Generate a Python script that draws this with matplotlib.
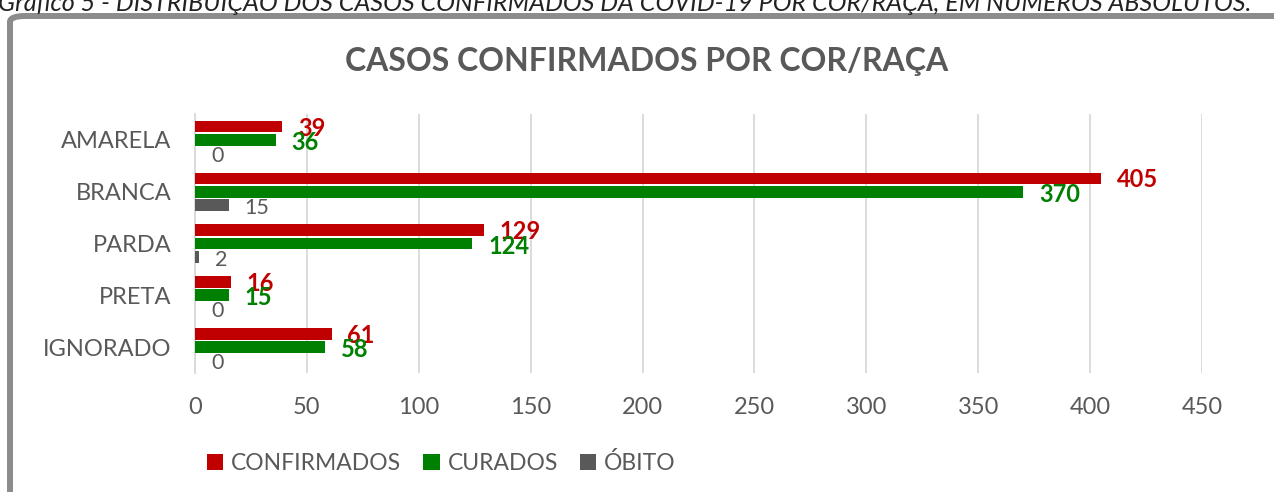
import matplotlib
matplotlib.use('Agg')
import matplotlib.pyplot as plt
import numpy as np
from matplotlib.patches import Patch, FancyBboxPatch

plt.rcParams['font.family'] = ['Lato', 'DejaVu Sans']

categorias = ['AMARELA', 'BRANCA', 'PARDA', 'PRETA', 'IGNORADO']
confirmados = [39, 405, 129, 16, 61]
curados = [36, 370, 124, 15, 58]
obitos = [0, 15, 2, 0, 0]
series = ['CONFIRMADOS', 'CURADOS', 'ÓBITO']
cores = ['#C00000', '#008000', '#595959']
xticks = [0, 50, 100, 150, 200, 250, 300, 350, 400, 450]

TXT = '#595959'
W, H = 1274, 492

fig = plt.figure(figsize=(W / 100, H / 100), dpi=100)

# moldura cinza do grafico (cortada na direita/embaixo)
frame = FancyBboxPatch((10 / W, -0.2), 1.2, 1 - 16 / H + 0.2,
                       boxstyle='round,pad=0,rounding_size=0.012',
                       transform=fig.transFigure, fill=False,
                       ec='#8c8c8c', lw=4.3, clip_on=False)
fig.patches.append(frame)

# legenda do documento, cortada no topo
fig.text(-2 / W, 1 - 11 / H, 'Gráfico 5 - DISTRIBUIÇÃO DOS CASOS CONFIRMADOS DA COVID-19 '
         'POR COR/RAÇA, EM NÚMEROS ABSOLUTOS.', fontsize=18.1, style='italic',
         color='#222222', va='baseline', ha='left')

ax = fig.add_axes([195 / W, 1 - 373 / H, (1202 - 195) / W, 259 / H])

y = np.arange(len(categorias))
h = 0.225
off = 0.256
for k, (vals, cor) in enumerate(zip([confirmados, curados, obitos], cores)):
    pos = y + (k - 1) * off
    ax.barh(pos, vals, height=h, color=cor, label=series[k], zorder=3)
    for p, v in zip(pos, vals):
        if k < 2:
            ax.annotate(str(v), (v, p), xytext=(11.5, -1 - 0.8 * k),
                        textcoords='offset points', ha='left', va='center',
                        color=cor, fontsize=17, fontweight='bold', zorder=4)
        else:
            ax.annotate(str(v), (v, p), xytext=(11.5, -2),
                        textcoords='offset points', ha='left', va='center',
                        color=TXT, fontsize=15.5, zorder=4)

ax.set_xlim(0, 450)
ax.set_ylim(len(categorias) - 0.5, -0.5)
ax.set_xticks(xticks)
ax.set_yticks(y)
ax.set_yticklabels(categorias)
ax.tick_params(axis='both', length=0, colors=TXT, labelsize=17)
ax.tick_params(axis='x', pad=17)
ax.tick_params(axis='y', pad=17)
ax.grid(axis='x', color='#D9D9D9', lw=1.3, zorder=0)
for s in ['top', 'right', 'bottom']:
    ax.spines[s].set_visible(False)
ax.spines['left'].set_color('#D9D9D9')
ax.spines['left'].set_linewidth(1.3)

fig.text(647 / W, 1 - 62 / H, 'CASOS CONFIRMADOS POR COR/RAÇA', ha='center',
         va='center', fontsize=23, fontweight='bold', color=TXT)

handles = [Patch(facecolor=c, label=s) for c, s in zip(cores, series)]
fig.legend(handles=handles, loc='center left', bbox_to_anchor=(186 / W, 1 - 463 / H),
           ncol=3, frameon=False, fontsize=16.5, labelcolor=TXT,
           handlelength=0.72, handleheight=0.72, handletextpad=0.35,
           columnspacing=0.95)

fig.savefig('out.png', dpi=100)
